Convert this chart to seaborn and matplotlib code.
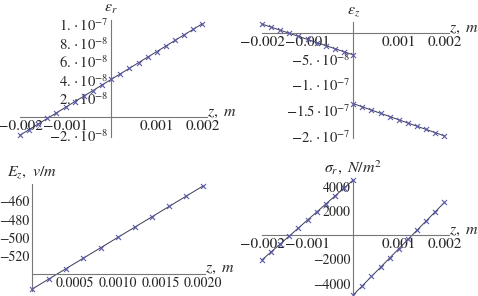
import numpy as np
import pandas as pd
import matplotlib
matplotlib.use("Agg")
import matplotlib.pyplot as plt
import seaborn as sns
from matplotlib.ticker import FixedLocator, FixedFormatter, MultipleLocator

sns.set_style("white")
plt.rcParams["font.family"] = ["STIXGeneral", "DejaVu Serif"]
plt.rcParams["mathtext.fontset"] = "stix"

# ---------------- data ----------------
z_full = [-0.002, -0.0018, -0.0016, -0.0014, -0.0012, -0.001, -0.0008, -0.0006, -0.0004, -0.0002,
          0.0, 0.0002, 0.0004, 0.0006, 0.0008, 0.001, 0.0012, 0.0014, 0.0016, 0.0018, 0.002]
z_neg = [-0.002, -0.0018, -0.0016, -0.0014, -0.0012, -0.001, -0.0008, -0.0006, -0.0004, -0.0002, 0.0]
z_pos = [0.0, 0.0002, 0.0004, 0.0006, 0.0008, 0.001, 0.0012, 0.0014, 0.0016, 0.0018, 0.002]

eps_r = [-1.95e-8, -1.35e-8, -0.74e-8, -0.14e-8, 0.46e-8, 1.07e-8, 1.67e-8, 2.27e-8, 2.87e-8, 3.48e-8,
         4.08e-8, 4.68e-8, 5.28e-8, 5.89e-8, 6.49e-8, 7.09e-8, 7.69e-8, 8.30e-8, 8.90e-8, 9.50e-8, 10.10e-8]

eps_z_neg = [1.8e-8, 1.2e-8, 0.6e-8, 0.0, -0.6e-8, -1.2e-8, -1.8e-8, -2.4e-8, -3.0e-8, -3.6e-8, -4.2e-8]
eps_z_pos = [-13.7e-8, -14.33e-8, -14.96e-8, -15.59e-8, -16.22e-8, -16.85e-8, -17.48e-8, -18.11e-8,
             -18.74e-8, -19.37e-8, -20.0e-8]

E_z = [-557, -545.6, -534.2, -522.8, -511.4, -500, -488.6, -477.2, -465.8, -454.4, -443]

sig_neg = [-2050, -1390, -730, -70, 590, 1250, 1910, 2570, 3230, 3890, 4550]
sig_pos = [-4950, -4185, -3420, -2655, -1890, -1125, -360, 405, 1170, 1935, 2700]

# tick labels
x_ticks_sym = [-0.002, -0.001, 0.001, 0.002]
x_labels_sym = ["\u22120.002", "\u22120.001", "0.001", "0.002"]
y1_ticks = [-2e-8, 2e-8, 4e-8, 6e-8, 8e-8, 1e-7]
y1_labels = [r"$-2.\,{\cdot}\,10^{-8}$", r"$2.\,{\cdot}\,10^{-8}$", r"$4.\,{\cdot}\,10^{-8}$",
             r"$6.\,{\cdot}\,10^{-8}$", r"$8.\,{\cdot}\,10^{-8}$", r"$1.\,{\cdot}\,10^{-7}$"]
y2_ticks = [-5e-8, -1e-7, -1.5e-7, -2e-7]
y2_labels = [r"$-5.\,{\cdot}\,10^{-8}$", r"$-1.\,{\cdot}\,10^{-7}$", r"$-1.5\,{\cdot}\,10^{-7}$",
             r"$-2.\,{\cdot}\,10^{-7}$"]
x3_ticks = [0.0005, 0.0010, 0.0015, 0.0020]
x3_labels = ["0.0005", "0.0010", "0.0015", "0.0020"]
y3_ticks = [-460, -480, -500, -520]
y3_labels = ["\u2212460", "\u2212480", "\u2212500", "\u2212520"]
y4_ticks = [4000, 2000, -2000, -4000]
y4_labels = ["4000", "2000", "\u22122000", "\u22124000"]

LINE_C = "#3a3a55"
MARK_C = "#5a5aa8"
AX_C = "#777777"

W, H = 478, 296
fig = plt.figure(figsize=(W / 100, H / 100), dpi=100)


def make_ax(x0, x1, ytop, ybot):
    return fig.add_axes([x0 / W, 1 - ybot / H, (x1 - x0) / W, (ybot - ytop) / H])


def style(ax, xorig, yorig, xt, xl, yt, yl, xminor, yminor, ylab, xfs, yfs):
    ax.set_facecolor("none")
    for s in ["top", "right"]:
        ax.spines[s].set_visible(False)
    ax.spines["left"].set_position(("data", xorig))
    ax.spines["bottom"].set_position(("data", yorig))
    for s in ["left", "bottom"]:
        ax.spines[s].set_color(AX_C)
        ax.spines[s].set_linewidth(0.8)
    ax.xaxis.set_major_locator(FixedLocator(xt))
    ax.xaxis.set_major_formatter(FixedFormatter(xl))
    ax.yaxis.set_major_locator(FixedLocator(yt))
    ax.yaxis.set_major_formatter(FixedFormatter(yl))
    ax.xaxis.set_minor_locator(MultipleLocator(xminor))
    ax.yaxis.set_minor_locator(MultipleLocator(yminor))
    ax.tick_params(which="both", direction="in", color=AX_C, pad=2)
    ax.tick_params(axis="x", labelsize=xfs)
    ax.tick_params(axis="y", labelsize=yfs)
    ax.tick_params(which="major", length=4, width=0.7)
    ax.tick_params(which="minor", length=2.2, width=0.6)
    ax.set_xlabel("")
    ax.set_ylabel("")
    # axis labels Mathematica style
    ax.annotate(r"$z,\ m$", xy=(1.0, yorig), xycoords=("axes fraction", "data"),
                xytext=(0, 3), textcoords="offset points", ha="left", va="center", fontsize=11.5)
    ax.annotate(ylab, xy=(xorig, 1.0), xycoords=("data", "axes fraction"),
                xytext=(0, 3), textcoords="offset points", ha="center", va="bottom", fontsize=11.5)


def draw(ax, zs, vals):
    df = pd.DataFrame({"z": zs, "v": vals})
    sns.lineplot(data=df, x="z", y="v", ax=ax, color=LINE_C, linewidth=0.7, clip_on=False)
    sns.scatterplot(data=df, x="z", y="v", ax=ax, marker="x", color=MARK_C, s=13,
                    linewidth=0.8, clip_on=False, zorder=3)


# Panel 1
ax1 = make_ax(20, 207, 20, 137)
draw(ax1, z_full, eps_r)
ax1.set_xlim(-0.002, 0.0021)
ax1.set_ylim(-2.15e-8, 1.05e-7)
style(ax1, 0, 0, x_ticks_sym, x_labels_sym, y1_ticks, y1_labels, 0.0002, 5e-9,
      r"$\varepsilon_r$", 11, 10.5)

# Panel 2
ax2 = make_ax(262, 449, 22, 138)
draw(ax2, z_neg, eps_z_neg)
draw(ax2, z_pos, eps_z_pos)
ax2.set_xlim(-0.002, 0.0021)
ax2.set_ylim(-2.04e-7, 2.2e-8)
style(ax2, 0, 0, x_ticks_sym, x_labels_sym, y2_ticks, y2_labels, 0.0002, 1e-8,
      r"$\varepsilon_z$", 11, 10.5)

# Panel 3
ax3 = make_ax(32, 205, 184, 291)
draw(ax3, z_pos, E_z)
ax3.set_xlim(0, 0.00202)
ax3.set_ylim(-559, -441)
style(ax3, 0, -540, x3_ticks, x3_labels, y3_ticks, y3_labels, 0.0001, 5,
      r"$E_z,\ v/m$", 10, 10)

# Panel 4
ax4 = make_ax(262, 449, 180, 295)
draw(ax4, z_neg, sig_neg)
draw(ax4, z_pos, sig_pos)
ax4.set_xlim(-0.002, 0.0021)
ax4.set_ylim(-4950, 4550)
style(ax4, 0, 0, x_ticks_sym, x_labels_sym, y4_ticks, y4_labels, 0.0002, 500,
      r"$\sigma_r,\ N/m^2$", 11, 10)

fig.savefig("out.png", dpi=100)
